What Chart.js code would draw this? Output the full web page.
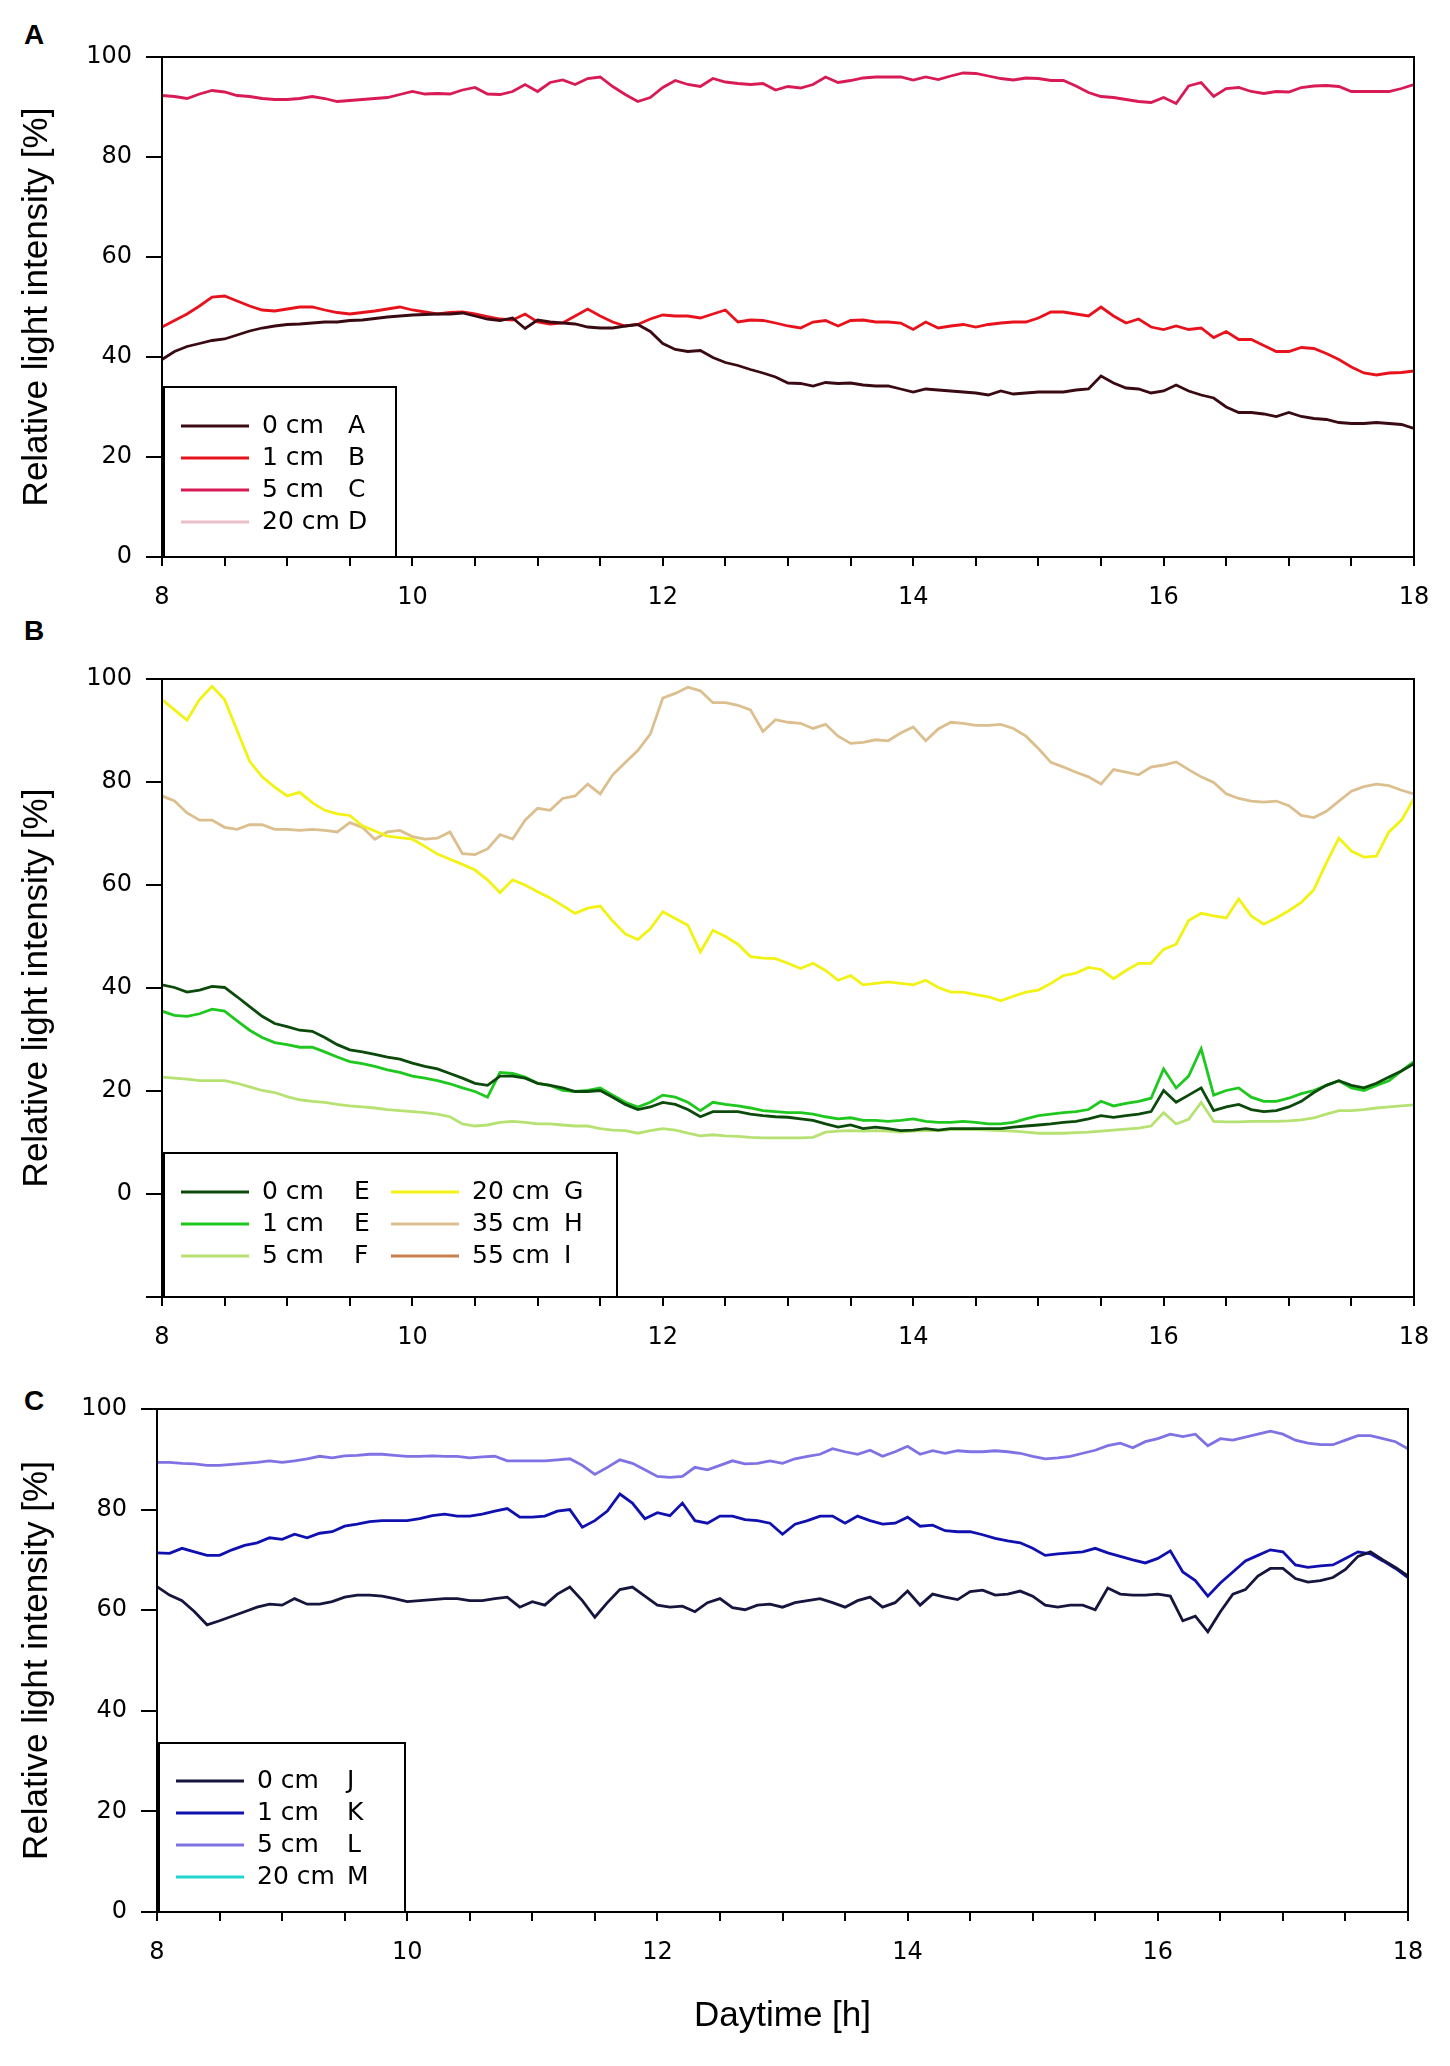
<!DOCTYPE html>
<html>
<head>
<meta charset="utf-8">
<script src="https://cdn.jsdelivr.net/npm/chart.js@4.4.1/dist/chart.umd.min.js"></script>
<style>
  body { margin: 0; background: #fff; }
  #page { position: relative; width: 1450px; height: 2066px; background: #fff; overflow: hidden; }
  canvas { position: absolute; left: 0; }
  .panel { position: absolute; left: 24px; font: bold 28px "Liberation Sans", Arial, sans-serif; line-height: 28px; color: #000; }
</style>
</head>
<body>
<div id="page">
  <div class="panel" style="top:21px">A</div>
  <div class="panel" style="top:617px">B</div>
  <div class="panel" style="top:1387px">C</div>
  <canvas id="chartA" width="1450" height="615" style="top:0px"></canvas>
  <canvas id="chartB" width="1450" height="740" style="top:615px"></canvas>
  <canvas id="chartC" width="1450" height="711" style="top:1355px"></canvas>
</div>
<script>
// time of day (h), shared x values
const hours = [
  8.0, 8.1, 8.2, 8.3, 8.4, 8.5, 8.6, 8.7, 8.8, 8.9,
  9.0, 9.1, 9.2, 9.3, 9.4, 9.5, 9.6, 9.7, 9.8, 9.9,
  10.0, 10.1, 10.2, 10.3, 10.4, 10.5, 10.6, 10.7, 10.8, 10.9,
  11.0, 11.1, 11.2, 11.3, 11.4, 11.5, 11.6, 11.7, 11.8, 11.9,
  12.0, 12.1, 12.2, 12.3, 12.4, 12.5, 12.6, 12.7, 12.8, 12.9,
  13.0, 13.1, 13.2, 13.3, 13.4, 13.5, 13.6, 13.7, 13.8, 13.9,
  14.0, 14.1, 14.2, 14.3, 14.4, 14.5, 14.6, 14.7, 14.8, 14.9,
  15.0, 15.1, 15.2, 15.3, 15.4, 15.5, 15.6, 15.7, 15.8, 15.9,
  16.0, 16.1, 16.2, 16.3, 16.4, 16.5, 16.6, 16.7, 16.8, 16.9,
  17.0, 17.1, 17.2, 17.3, 17.4, 17.5, 17.6, 17.7, 17.8, 17.9,
  18.0
];
const xTickLabels = [8, 10, 12, 14, 16, 18];
const yTickLabels = [0, 20, 40, 60, 80, 100];

// Panel A
const depthsA = ["0 cm", "1 cm", "5 cm", "20 cm"];
const sitesA = ["A", "B", "C", "D"];
const colorsA = ["#3a0a12", "#e8121c", "#d81a55", "#ebbfc8"];
const a0 = [
  39.5, 41.1, 42.1, 42.7, 43.3, 43.6, 44.4, 45.2, 45.8, 46.2,
  46.5, 46.6, 46.8, 47.0, 47.0, 47.3, 47.4, 47.7, 48.0, 48.2,
  48.4, 48.5, 48.6, 48.6, 48.8, 48.2, 47.6, 47.3, 47.8, 45.7,
  47.4, 47.0, 46.8, 46.6, 46.0, 45.8, 45.8, 46.2, 46.5, 45.1,
  42.7, 41.5, 41.1, 41.3, 39.9, 38.9, 38.3, 37.5, 36.8, 36.0,
  34.8, 34.7, 34.2, 34.9, 34.7, 34.8, 34.4, 34.2, 34.2, 33.6,
  33.0, 33.6, 33.4, 33.2, 33.0, 32.8, 32.4, 33.2, 32.6, 32.8,
  33.0, 33.0, 33.0, 33.4, 33.6, 36.2, 34.8, 33.8, 33.6, 32.8,
  33.2, 34.4, 33.2, 32.4, 31.8, 30.0, 28.9, 28.9, 28.6, 28.1,
  28.9, 28.1, 27.7, 27.5, 26.9, 26.7, 26.7, 26.9, 26.7, 26.5,
  25.7
];
const a1 = [
  46.0, 47.3, 48.6, 50.2, 52.0, 52.2, 51.2, 50.2, 49.4, 49.2,
  49.6, 50.0, 50.0, 49.4, 48.9, 48.6, 48.9, 49.2, 49.6, 50.0,
  49.4, 49.0, 48.6, 48.9, 49.0, 48.6, 48.1, 47.6, 47.4, 48.6,
  47.0, 46.6, 46.8, 48.2, 49.6, 48.2, 47.0, 46.2, 46.5, 47.6,
  48.4, 48.2, 48.2, 47.8, 48.6, 49.4, 47.0, 47.4, 47.3, 46.8,
  46.2, 45.8, 47.0, 47.3, 46.2, 47.3, 47.4, 47.0, 47.0, 46.8,
  45.5, 47.0, 45.8, 46.2, 46.5, 46.0, 46.5, 46.8, 47.0, 47.0,
  47.8, 49.0, 49.0, 48.6, 48.2, 50.0, 48.2, 46.8, 47.6, 46.0,
  45.5, 46.2, 45.5, 45.8, 43.9, 45.1, 43.5, 43.5, 42.3, 41.1,
  41.1, 41.9, 41.7, 40.7, 39.5, 38.0, 36.8, 36.4, 36.8, 36.9,
  37.2
];
const a5 = [
  92.3, 92.1, 91.7, 92.6, 93.3, 93.0, 92.3, 92.1, 91.7, 91.5,
  91.5, 91.7, 92.1, 91.7, 91.1, 91.3, 91.5, 91.7, 91.9, 92.5,
  93.1, 92.6, 92.7, 92.6, 93.4, 93.9, 92.6, 92.5, 93.1, 94.5,
  93.1, 94.9, 95.4, 94.5, 95.7, 96.0, 94.1, 92.5, 91.1, 91.9,
  93.9, 95.3, 94.5, 94.1, 95.7, 95.0, 94.7, 94.5, 94.7, 93.4,
  94.1, 93.8, 94.5, 96.0, 94.9, 95.3, 95.8, 96.0, 96.0, 96.0,
  95.4, 96.0, 95.5, 96.2, 96.8, 96.7, 96.2, 95.7, 95.4, 95.8,
  95.7, 95.3, 95.3, 94.2, 92.9, 92.1, 91.9, 91.5, 91.1, 90.9,
  91.9, 90.7, 94.2, 94.9, 92.1, 93.7, 93.9, 93.1, 92.7, 93.1,
  93.0, 93.9, 94.2, 94.3, 94.1, 93.1, 93.1, 93.1, 93.1, 93.7,
  94.5
];
const a20 = [];

// Panel B
const depthsB = ["0 cm", "1 cm", "5 cm", "20 cm", "35 cm", "55 cm"];
const sitesB = ["E", "E", "F", "G", "H", "I"];
const colorsB = ["#0c4a0c", "#1ec81e", "#b6e272", "#f2f214", "#dcbf8e", "#c8804c"];
const b0 = [
  40.6, 40.1, 39.2, 39.6, 40.3, 40.1, 38.3, 36.4, 34.5, 33.1,
  32.5, 31.8, 31.6, 30.4, 29.0, 28.0, 27.6, 27.1, 26.6, 26.2,
  25.4, 24.8, 24.3, 23.4, 22.5, 21.5, 21.1, 22.9, 22.9, 22.5,
  21.5, 21.1, 20.6, 19.9, 19.9, 20.1, 18.8, 17.4, 16.4, 16.9,
  17.8, 17.4, 16.4, 15.0, 16.0, 16.0, 16.0, 15.5, 15.2, 15.0,
  14.9, 14.6, 14.3, 13.6, 13.0, 13.4, 12.7, 13.0, 12.7, 12.3,
  12.4, 12.7, 12.4, 12.7, 12.7, 12.7, 12.7, 12.7, 13.0, 13.2,
  13.4, 13.6, 13.9, 14.1, 14.6, 15.2, 14.9, 15.2, 15.5, 16.0,
  20.1, 17.8, 19.2, 20.6, 16.2, 16.9, 17.4, 16.4, 16.0, 16.2,
  16.9, 18.0, 19.7, 21.1, 22.0, 21.1, 20.6, 21.5, 22.7, 23.9,
  25.3
];
const b1 = [
  35.5, 34.7, 34.5, 35.0, 35.9, 35.5, 33.6, 31.8, 30.4, 29.4,
  29.0, 28.5, 28.5, 27.6, 26.6, 25.7, 25.3, 24.8, 24.1, 23.6,
  22.9, 22.5, 22.0, 21.4, 20.6, 19.9, 18.8, 23.6, 23.4, 22.7,
  21.5, 21.1, 20.1, 19.9, 20.1, 20.6, 19.2, 17.8, 16.9, 17.8,
  19.2, 18.8, 17.8, 16.2, 17.8, 17.4, 17.1, 16.7, 16.2, 16.0,
  15.8, 15.8, 15.5, 15.0, 14.6, 14.8, 14.3, 14.3, 14.1, 14.3,
  14.6, 14.1, 13.9, 13.9, 14.1, 13.9, 13.6, 13.6, 13.9, 14.6,
  15.2, 15.5, 15.8, 16.0, 16.4, 18.0, 17.1, 17.6, 18.0, 18.6,
  24.3, 20.6, 22.9, 28.2, 19.2, 20.1, 20.6, 18.8, 18.0, 18.0,
  18.6, 19.5, 20.1, 21.1, 22.0, 20.6, 20.1, 21.1, 22.0, 23.9,
  25.7
];
const b5 = [
  22.7, 22.5, 22.3, 22.0, 22.0, 22.0, 21.5, 20.8, 20.1, 19.7,
  18.9, 18.3, 18.0, 17.8, 17.4, 17.1, 16.9, 16.7, 16.4, 16.2,
  16.0, 15.8, 15.5, 15.0, 13.6, 13.2, 13.4, 13.9, 14.1, 13.9,
  13.6, 13.6, 13.4, 13.2, 13.2, 12.7, 12.4, 12.3, 11.8, 12.3,
  12.7, 12.4, 11.8, 11.3, 11.5, 11.3, 11.2, 11.0, 10.9, 10.9,
  10.9, 10.9, 11.0, 12.0, 12.2, 12.3, 12.2, 12.3, 12.2, 12.0,
  12.2, 12.3, 12.3, 12.5, 12.5, 12.5, 12.4, 12.3, 12.2, 12.0,
  11.8, 11.8, 11.8, 11.9, 12.0, 12.2, 12.4, 12.6, 12.8, 13.2,
  15.8, 13.6, 14.5, 17.8, 14.1, 14.0, 14.0, 14.1, 14.1, 14.1,
  14.2, 14.4, 14.8, 15.5, 16.2, 16.2, 16.4, 16.7, 16.9, 17.1,
  17.3
];
const b20 = [
  96.0, 94.0, 92.0, 96.0, 98.6, 96.0, 90.0, 84.0, 81.0, 79.0,
  77.3, 78.0, 76.0, 74.5, 73.8, 73.5, 71.5, 70.5, 69.5, 69.2,
  68.9, 67.5, 66.0, 65.0, 64.0, 62.9, 61.0, 58.5, 61.0, 60.0,
  58.7, 57.5, 56.0, 54.5, 55.5, 55.9, 53.0, 50.5, 49.4, 51.5,
  54.8, 53.5, 52.2, 47.0, 51.2, 50.0, 48.5, 46.1, 45.8, 45.7,
  44.8, 43.8, 44.8, 43.4, 41.5, 42.4, 40.6, 40.9, 41.2, 40.9,
  40.6, 41.5, 40.1, 39.2, 39.2, 38.7, 38.3, 37.5, 38.4, 39.2,
  39.6, 40.9, 42.4, 42.9, 44.0, 43.6, 41.8, 43.4, 44.8, 44.8,
  47.5, 48.5, 53.1, 54.5, 54.0, 53.6, 57.3, 54.0, 52.4, 53.6,
  55.0, 56.6, 59.1, 64.3, 69.1, 66.6, 65.4, 65.6, 70.3, 72.6,
  76.8
];
const b35 = [
  77.3, 76.3, 74.0, 72.6, 72.6, 71.2, 70.8, 71.7, 71.7, 70.8,
  70.8, 70.6, 70.8, 70.6, 70.3, 72.1, 71.2, 68.9, 70.3, 70.6,
  69.4, 68.9, 69.1, 70.3, 66.1, 65.9, 67.0, 69.8, 68.9, 72.6,
  74.9, 74.5, 76.8, 77.3, 79.6, 77.7, 81.4, 83.8, 86.1, 89.3,
  96.3, 97.2, 98.4, 97.7, 95.4, 95.4, 94.9, 94.0, 89.8, 92.1,
  91.6, 91.4, 90.4, 91.2, 88.9, 87.5, 87.7, 88.2, 88.0, 89.5,
  90.7, 88.0, 90.3, 91.6, 91.4, 91.0, 91.0, 91.2, 90.4, 88.9,
  86.5, 83.8, 82.9, 81.9, 81.0, 79.6, 82.4, 81.9, 81.4, 82.9,
  83.3, 83.9, 82.4, 81.0, 79.9, 77.7, 76.8, 76.3, 76.1, 76.3,
  75.4, 73.5, 73.1, 74.3, 76.3, 78.2, 79.1, 79.6, 79.3, 78.4,
  77.7
];
const b55 = [];

// Panel C
const depthsC = ["0 cm", "1 cm", "5 cm", "20 cm"];
const sitesC = ["J", "K", "L", "M"];
const colorsC = ["#15153e", "#1010b0", "#7e72e4", "#22d6d0"];
const c0 = [
  64.7, 63.0, 61.9, 59.7, 57.1, 57.9, 58.8, 59.7, 60.6, 61.2,
  61.0, 62.3, 61.2, 61.2, 61.7, 62.6, 63.0, 63.0, 62.8, 62.3,
  61.7, 61.9, 62.1, 62.3, 62.3, 61.9, 61.9, 62.3, 62.6, 60.6,
  61.7, 61.0, 63.2, 64.6, 61.9, 58.6, 61.5, 64.1, 64.6, 62.8,
  61.0, 60.6, 60.8, 59.7, 61.5, 62.3, 60.5, 60.1, 61.0, 61.2,
  60.6, 61.5, 61.9, 62.3, 61.5, 60.6, 61.9, 62.6, 60.6, 61.5,
  63.8, 61.0, 63.2, 62.6, 62.1, 63.7, 64.0, 63.0, 63.2, 63.8,
  62.8, 61.0, 60.6, 61.0, 61.0, 60.1, 64.4, 63.2, 63.0, 63.0,
  63.2, 62.8, 57.9, 58.8, 55.7, 59.7, 63.2, 64.1, 66.8, 68.3,
  68.3, 66.3, 65.6, 65.9, 66.5, 68.1, 70.7, 71.6, 70.0, 68.5,
  66.8
];
const c1 = [
  71.4, 71.3, 72.3, 71.6, 70.9, 70.9, 72.0, 72.9, 73.4, 74.4,
  74.1, 75.1, 74.4, 75.3, 75.6, 76.7, 77.1, 77.6, 77.8, 77.8,
  77.8, 78.2, 78.8, 79.1, 78.7, 78.7, 79.1, 79.7, 80.2, 78.5,
  78.5, 78.7, 79.7, 80.0, 76.5, 77.8, 79.7, 83.1, 81.3, 78.2,
  79.4, 78.8, 81.3, 77.8, 77.3, 78.7, 78.7, 78.0, 77.8, 77.3,
  75.1, 77.1, 77.8, 78.7, 78.7, 77.3, 78.7, 77.8, 77.1, 77.3,
  78.5, 76.7, 76.9, 75.8, 75.6, 75.6, 75.0, 74.3, 73.8, 73.4,
  72.3, 70.9, 71.2, 71.4, 71.6, 72.3, 71.4, 70.7, 70.0, 69.4,
  70.3, 71.8, 67.6, 65.9, 62.8, 65.4, 67.6, 69.8, 70.9, 72.0,
  71.6, 69.0, 68.5, 68.8, 69.0, 70.3, 71.6, 71.2, 69.8, 68.3,
  66.5
];
const c5 = [
  89.4, 89.4, 89.2, 89.1, 88.8, 88.8, 89.0, 89.2, 89.4, 89.7,
  89.4, 89.7, 90.1, 90.6, 90.3, 90.7, 90.8, 91.0, 91.0, 90.8,
  90.6, 90.6, 90.7, 90.6, 90.6, 90.3, 90.5, 90.6, 89.7, 89.7,
  89.7, 89.7, 89.9, 90.1, 88.8, 87.0, 88.4, 89.9, 89.2, 87.9,
  86.6, 86.4, 86.6, 88.4, 87.9, 88.8, 89.7, 89.1, 89.2, 89.7,
  89.2, 90.1, 90.6, 91.0, 92.1, 91.5, 91.0, 91.8, 90.6, 91.5,
  92.6, 91.0, 91.7, 91.2, 91.7, 91.5, 91.5, 91.7, 91.5, 91.2,
  90.6, 90.1, 90.3, 90.6, 91.2, 91.8, 92.7, 93.2, 92.3, 93.5,
  94.1, 95.0, 94.5, 95.0, 92.7, 94.1, 93.8, 94.4, 95.0, 95.6,
  95.0, 93.8, 93.2, 92.9, 92.9, 93.8, 94.7, 94.7, 94.1, 93.5,
  92.1
];
const c20 = [];

const TICK_FONT = { family: "'DejaVu Sans', sans-serif", size: 24 };
const TITLE_FONT = { family: "'Liberation Sans', Arial, sans-serif", size: 35 };

// black box round the plot area
const framePlugin = {
    id: "frame",
    afterDatasetsDraw(chart) {
        const { ctx, chartArea: a } = chart;
        ctx.save();
        ctx.strokeStyle = "#000";
        ctx.lineWidth = 2;
        ctx.strokeRect(a.left, a.top, a.right - a.left, a.bottom - a.top);
        ctx.restore();
    },
};

// boxed legend in the lower left corner of the plot
const boxLegendPlugin = {
    id: "boxLegend",
    afterDraw(chart, args, opts) {
        const { ctx, chartArea: a } = chart;
        const left = a.left + 2;
        const top = a.bottom - opts.height;
        ctx.save();
        ctx.fillStyle = "#fff";
        ctx.fillRect(left, top, opts.width, opts.height);
        ctx.strokeStyle = "#000";
        ctx.lineWidth = 2;
        ctx.strokeRect(left, top, opts.width, opts.height);
        ctx.font = "25px 'DejaVu Sans', sans-serif";
        ctx.textBaseline = "middle";
        ctx.fillStyle = "#000";
        chart.data.datasets.forEach((ds, i) => {
            const col = Math.floor(i / opts.rows);
            const row = i % opts.rows;
            const x0 = left + opts.colX[col];
            const y = a.bottom - opts.firstRow + row * opts.rowGap;
            ctx.strokeStyle = ds.borderColor;
            ctx.lineWidth = 2.8;
            ctx.beginPath();
            ctx.moveTo(x0 + 17, y);
            ctx.lineTo(x0 + 85, y);
            ctx.stroke();
            ctx.fillText(ds.label, x0 + 98, y);
            ctx.fillText(ds.site, x0 + 98 + opts.letterGap, y);
        });
        ctx.restore();
    },
};

function makeDatasets(depths, sites, colors, series) {
    return series.map((vals, i) => ({
        label: depths[i],
        site: sites[i],
        data: vals.map((v, j) => ({ x: hours[j], y: v })),
        borderColor: colors[i],
        backgroundColor: colors[i],
        borderWidth: 2.8,
        pointRadius: 0,
        tension: 0,
        fill: false,
    }));
}

function makeChart(id, p) {
    const ctx = document.getElementById(id).getContext("2d");
    return new Chart(ctx, {
        type: "line",
        data: { datasets: makeDatasets(p.depths, p.sites, p.colors, p.series) },
        plugins: [framePlugin, boxLegendPlugin],
        options: {
            responsive: false,
            animation: false,
            layout: { padding: { top: p.padTop, right: p.padRight, left: 0, bottom: 0 } },
            plugins: {
                legend: { display: false },
                tooltip: { enabled: false },
                boxLegend: p.legend,
            },
            scales: {
                x: {
                    type: "linear",
                    min: 8,
                    max: 18,
                    afterFit: (s) => { s.height = p.xHeight; },
                    border: { display: true, color: "#000", width: 2 },
                    grid: { drawOnChartArea: false, drawTicks: true, tickLength: 9, color: "#000", lineWidth: 2 },
                    ticks: {
                        stepSize: 0.5,
                        autoSkip: false,
                        maxRotation: 0,
                        padding: 17,
                        color: "#000",
                        font: TICK_FONT,
                        callback: (v) => (xTickLabels.includes(v) ? String(v) : ""),
                    },
                    title: {
                        display: !!p.xTitle,
                        text: p.xTitle || "",
                        color: "#000",
                        font: TITLE_FONT,
                        padding: { top: 0, bottom: 29 },
                    },
                },
                y: {
                    min: p.yMin,
                    max: 100,
                    afterFit: (s) => { s.width = p.yWidth; },
                    border: { display: true, color: "#000", width: 2 },
                    grid: { drawOnChartArea: false, drawTicks: true, tickLength: 16, color: "#000", lineWidth: 2 },
                    ticks: {
                        stepSize: 20,
                        padding: 14,
                        color: "#000",
                        font: TICK_FONT,
                        callback: (v) => (yTickLabels.includes(v) ? String(v) : ""),
                    },
                    title: {
                        display: true,
                        text: "Relative light intensity [%]",
                        color: "#000",
                        font: TITLE_FONT,
                        padding: { top: 16, bottom: 0 },
                    },
                },
            },
        },
    });
}

makeChart("chartA", {
    depths: depthsA, sites: sitesA, colors: colorsA, series: [a0, a1, a5, a20],
    padTop: 57, padRight: 36, yWidth: 162, xHeight: 58, yMin: 0,
    legend: { width: 232, height: 170, rows: 4, colX: [0], firstRow: 131, rowGap: 32, letterGap: 86 },
});

makeChart("chartB", {
    depths: depthsB, sites: sitesB, colors: colorsB, series: [b0, b1, b5, b20, b35, b55],
    padTop: 64, padRight: 36, yWidth: 162, xHeight: 58, yMin: -20,
    legend: { width: 453, height: 144, rows: 3, colX: [0, 210], firstRow: 105, rowGap: 32, letterGap: 92 },
});

makeChart("chartC", {
    depths: depthsC, sites: sitesC, colors: colorsC, series: [c0, c1, c5, c20],
    padTop: 54, padRight: 42, yWidth: 157, xHeight: 154, yMin: 0, xTitle: "Daytime [h]",
    legend: { width: 246, height: 169, rows: 4, colX: [0], firstRow: 131, rowGap: 32, letterGap: 90 },
});
</script>
</body>
</html>
